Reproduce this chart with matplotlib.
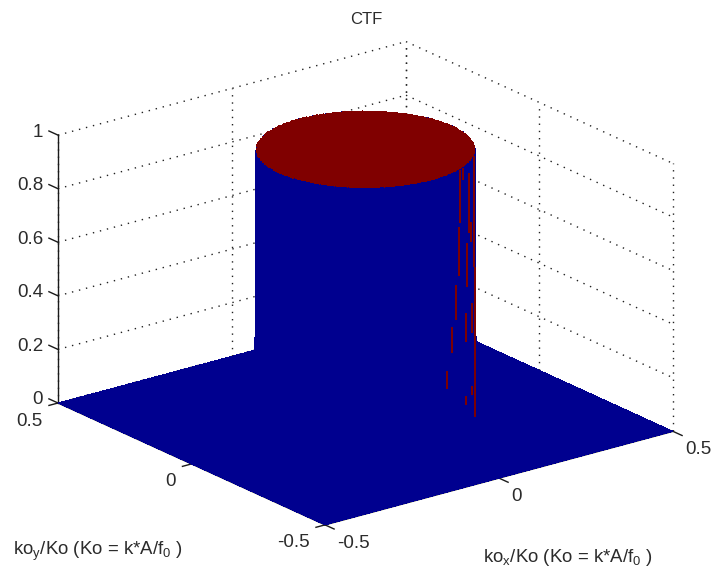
import numpy as np
import matplotlib
matplotlib.use("Agg")
import matplotlib.pyplot as plt
from mpl_toolkits.mplot3d import proj3d

plt.rcParams['font.family'] = ['Liberation Sans', 'DejaVu Sans']
plt.rcParams['mathtext.fontset'] = 'custom'
plt.rcParams['mathtext.rm'] = 'Liberation Sans'
plt.rcParams['mathtext.default'] = 'regular'

# ---- data ----
x_ticks = [-0.5, 0, 0.5]
y_ticks = [-0.5, 0, 0.5]
z_ticks = [0, 0.2, 0.4, 0.6, 0.8, 1]
x_tick_labels = ['-0.5', '0', '0.5']
y_tick_labels = ['-0.5', '0', '0.5']
z_tick_labels = ['0', '0.2', '0.4', '0.6', '0.8', '1']
cutoff_radius = 0.25
samples = 256
title = 'CTF'
xlabel = r'ko$_{x}$/Ko (Ko = k*A/f$_{0}$ )'
ylabel = r'ko$_{y}$/Ko (Ko = k*A/f$_{0}$ )'
# red flecks on the cylinder wall: angle round the rim (deg, from the
# right-hand silhouette towards the viewer) and the height range of each
fleck_angle = [27.2, 30.1, 31.8, 34.0, 38.2, 41.7, 24.0, 21.7,
               19.8, 15.2, 13.9, 14.5, 24.0, 9.5, 3.5, 0.0]
fleck_z_low = [0.952, 0.797, 0.601, 0.444, 0.328, 0.200, 0.340, 0.540,
               0.737, 0.693, 0.350, 0.120, 0.105, 0.585, 0.197, 0.0]
fleck_z_high = [0.995, 0.995, 0.787, 0.575, 0.427, 0.266, 0.448, 0.704,
                0.961, 0.767, 0.462, 0.153, 0.138, 1.0, 0.570, 0.188]

# ---- style ----
W, H = 713, 577
BLUE = '#00008f'
RED = '#800000'
INK = '#2b2b2b'
FS = 13.5
TICK_X = 0.034   # x ticks run along -y
TICK_Y = 0.026   # y ticks run along -x
TICK_Z = 0.034   # z ticks run along +y
AZIM = -127.5
TARGET_LEFT = (58.0, 403.0)     # pixel of (x=-.5, y=.5, z=0)
TARGET_RIGHT = (673.0, 432.0)   # pixel of (x=.5, y=-.5, z=0)

fig = plt.figure(figsize=(W / 100, H / 100), dpi=100, facecolor='white')
ax = fig.add_axes([0, 0, 1, W / H], projection='3d', computed_zorder=False)
ax.set_proj_type('ortho')
ax.view_init(elev=20.5, azim=AZIM)
ax.set_xlim(-0.5, 0.5, view_margin=0)
ax.set_ylim(-0.5, 0.5, view_margin=0)
ax.set_zlim(0, 1, view_margin=0)
aspect = (1, 1, 0.652)
ax.set_axis_off()
ax.patch.set_visible(False)


def px(x, y, z):
    """Pixel (from top-left) of a data point."""
    ax.apply_aspect()
    a, b, _ = proj3d.proj_transform(x, y, z, ax.get_proj())
    dx, dy = ax.transData.transform((a, b))
    return dx, H - dy


# calibrate zoom and position of the 3D box on the figure
ax.set_box_aspect(aspect, zoom=1)
l, r = px(-0.5, 0.5, 0), px(0.5, -0.5, 0)
zoom = (TARGET_RIGHT[0] - TARGET_LEFT[0]) / (r[0] - l[0])
ax.set_box_aspect(aspect, zoom=zoom)
l = px(-0.5, 0.5, 0)
pos = ax.get_position(original=True)
ax.set_position([(TARGET_LEFT[0] - l[0]) / W, pos.y0 + (l[1] - TARGET_LEFT[1]) / H,
                 pos.width, pos.height])

# back-wall grid
GRID = dict(color='#222222', lw=1.0, ls=(0, (1, 4.2)), zorder=1)
for z in z_ticks:
    ax.plot([-0.5, 0.5], [0.5, 0.5], [z, z], **GRID)
    ax.plot([0.5, 0.5], [0.5, -0.5], [z, z], **GRID)
for x in x_ticks:
    ax.plot([x, x], [0.5, 0.5], [0, 1], **GRID)
for y in y_ticks:
    ax.plot([0.5, 0.5], [y, y], [0, 1], **GRID)

# axis lines and tick marks
AXIS = dict(color='#1a1a1a', lw=1.0, zorder=2)
ax.plot([-0.5, 0.5], [-0.5, -0.5], [0, 0], **AXIS)
ax.plot([-0.5, -0.5], [-0.5, 0.5], [0, 0], **AXIS)
ax.plot([-0.5, -0.5], [0.5, 0.5], [0, 1], **AXIS)
for x in x_ticks:
    ax.plot([x, x], [-0.5, -0.5 - TICK_X], [0, 0], **AXIS)
for y in y_ticks:
    ax.plot([-0.5, -0.5 - TICK_Y], [y, y], [0, 0], **AXIS)
for z in z_ticks:
    ax.plot([-0.5, -0.5], [0.5, 0.5 + TICK_Z], [z, z], **AXIS)

# the surface: red only on the flat cap, blue on the floor and the wall
kx = np.linspace(-0.5, 0.5, samples)
ky = np.linspace(-0.5, 0.5, samples)
KX, KY = np.meshgrid(kx, ky)
CTF = (np.hypot(KX, KY) <= cutoff_radius).astype(float)
cap = (CTF[:-1, :-1] + CTF[1:, :-1] + CTF[:-1, 1:] + CTF[1:, 1:]) == 4
colors = np.empty(CTF.shape + (4,))
colors[:] = matplotlib.colors.to_rgba(BLUE)
colors[:-1, :-1][cap] = matplotlib.colors.to_rgba(RED)
ax.plot_surface(KX, KY, CTF, facecolors=colors, rstride=1, cstride=1,
                shade=False, linewidth=0, edgecolor='none',
                antialiased=False, zorder=3)

# red flecks on the wall, placed on the rim of the cylinder
view = np.deg2rad(AZIM + 90)  # screen-right direction in the kx-ky plane
for a, z0, z1 in zip(fleck_angle, fleck_z_low, fleck_z_high):
    t = view - np.deg2rad(a)
    fx = cutoff_radius * np.cos(t)
    fy = cutoff_radius * np.sin(t)
    ax.plot([fx, fx], [fy, fy], [z0, z1], color=RED, lw=1.4,
            solid_capstyle='butt', zorder=4)


# texts, placed relative to the projected tick positions
def label(x, y, z, s, dx, dy, ha):
    p = px(x, y, z)
    fig.text((p[0] + dx) / W, 1 - (p[1] + dy) / H, s, ha=ha, va='center',
             fontsize=FS, color=INK)


for z, s in zip(z_ticks, z_tick_labels):
    label(-0.5, 0.5, z, s, -15, -3, 'right')
for y, s in zip(y_ticks, y_tick_labels):
    label(-0.5, y, 0, s, -15.5, 18, 'right')
for x, s in zip(x_ticks, x_tick_labels):
    label(x, -0.5, 0, s, 12.5, 18.5, 'left')

fig.text(366 / W, 1 - 19 / H, title, ha='center', va='center', fontsize=12, color=INK)
fig.text(13 / W, 1 - 555 / H, ylabel, ha='left', va='baseline', fontsize=13.4, color=INK)
fig.text(483 / W, 1 - 562 / H, xlabel, ha='left', va='baseline', fontsize=13.4, color=INK)

fig.savefig('out.png', dpi=100)
